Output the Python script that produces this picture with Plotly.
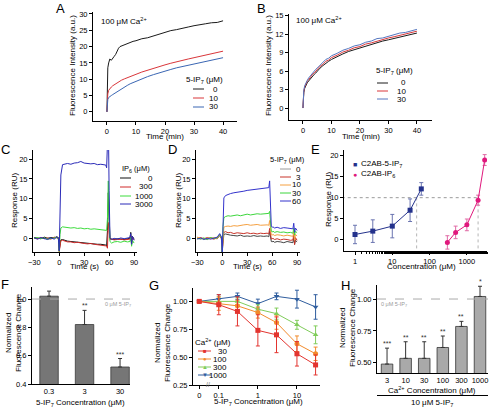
import plotly.graph_objects as go
import math

W, H = 490, 408

# ---------------- DATA ----------------
# Panel A / B : time course (min)
tA = [0, 0.1, 0.3, 0.6, 1, 1.5, 2, 2.5, 3, 3.5, 4, 4.5, 5, 6, 7, 8, 9, 10, 12, 14,
      16, 18, 20, 22, 24, 26, 28, 30, 32, 34, 36, 38, 40]
A_0 = [0, 12.0, 13.5, 15.0, 16.2, 15.8, 16.6, 17.0, 17.6, 18.6, 19.5, 20.0, 20.2, 20.5, 20.9,
       21.2, 21.6, 21.8, 22.4, 22.7, 23.3, 23.8, 24.3, 24.9, 25.2, 25.7, 26.0, 26.4, 26.6, 27.0,
       27.3, 27.4, 27.9]
A_10 = [0, 3.5, 5.5, 6.6, 7.2, 7.6, 8.0, 8.3, 8.6, 8.9, 9.2, 9.4, 9.7, 10.1, 10.5, 10.9, 11.2,
        11.5, 12.2, 12.8, 13.4, 13.9, 14.4, 14.9, 15.4, 15.8, 16.2, 16.6, 17.0, 17.4, 17.8, 18.2, 18.6]
A_30 = [0, 2.5, 3.8, 4.4, 4.8, 5.0, 5.3, 5.6, 5.9, 6.2, 6.5, 6.8, 7.1, 7.6, 8.1, 8.6, 9.0, 9.4,
        10.1, 10.8, 11.4, 12.0, 12.5, 13.0, 13.5, 13.9, 14.3, 14.7, 15.1, 15.5, 15.8, 16.2, 16.6]
B_0 = [0, 1.6, 2.5, 3.2, 3.7, 4.1, 4.4, 4.7, 5.0, 5.3, 5.5, 5.7, 6.0, 6.5, 6.9, 7.3, 7.6, 7.9,
       8.4, 8.8, 9.2, 9.5, 9.8, 10.1, 10.4, 10.6, 10.9, 11.1, 11.3, 11.5, 11.7, 11.9, 12.2]
B_10 = [0, 1.8, 2.7, 3.4, 3.9, 4.4, 4.6, 5.0, 5.2, 5.6, 5.7, 6.0, 6.2, 6.8, 7.1, 7.6, 7.8, 8.2,
        8.6, 9.1, 9.4, 9.8, 10.0, 10.4, 10.6, 10.9, 11.1, 11.4, 11.6, 11.8, 12.0, 12.2, 12.5]
B_30 = [0, 2.0, 2.9, 3.6, 4.1, 4.5, 4.9, 5.2, 5.5, 5.8, 6.0, 6.3, 6.5, 7.0, 7.4, 7.9, 8.1, 8.5,
        8.9, 9.4, 9.7, 10.1, 10.3, 10.7, 10.9, 11.3, 11.4, 11.7, 11.9, 12.2, 12.3, 12.5, 12.8]

# Panel C / D : SPR sensorgrams (s)
tC = [-30, -26, -22, -18, -14, -10, -6, -3, -1, 0, 1, 2, 4, 7, 10, 14, 18, 22, 26, 30, 34, 38,
      42, 46, 50, 54, 56, 57, 58, 59, 60, 61, 63, 66, 70, 74, 78, 82, 85, 86, 87, 88, 90]
C_0 = [0.2, 0.1, -0.1, 0.3, 0.0, 0.2, 0.1, 0.4, 0.2, -3.0, -1.2, -0.4, -0.3, -0.6, -0.7,
       -0.8, -0.9, -0.9, -1.1, -1.2, -1.2, -1.3, -1.4, -1.5, -1.5, -1.6, -1.7, -1.9, 2.0, 11.5,
       3.0, 0.0, -0.2, -0.3, -0.1, -0.2, -0.3, -0.1, 0.0, 1.5, -1.0, 0.5, -0.2]
C_300 = [0.0, -0.1, 0.2, -0.1, 0.1, -0.2, 0.3, 0.2, 0.0, -3.4, -1.5, -0.6, -0.5, -0.8, -0.9,
         -0.9, -1.1, -1.0, -1.2, -1.3, -1.4, -1.3, -1.5, -1.6, -1.6, -1.8, -1.9, -2.0, -2.5, 4.0,
         1.0, -0.3, -0.2, -0.4, -0.3, -0.2, -0.4, -0.3, -0.2, 0.5, -1.5, 0.3, -0.3]
C_1000 = [0.0, 0.2, -0.1, 0.1, -0.2, 0.0, 0.1, 0.2, -0.1, -3.3, 1.0, 2.6, 2.9, 2.8, 2.7,
          2.6, 2.7, 2.5, 2.6, 2.4, 2.5, 2.3, 2.4, 2.3, 2.2, 2.2, 2.1, 2.0, 5.0, 14.5,
          5.0, -0.8, -1.2, -0.9, -0.8, -1.0, -0.7, -0.9, -0.8, 0.3, -2.0, -0.5, -1.2]
C_3000 = [0.1, -0.2, 0.2, 0.0, -0.3, 0.1, -0.2, 0.3, 0.0, -3.2, 8.0, 16.0, 18.6, 18.8, 18.9,
          18.7, 19.0, 19.1, 19.4, 19.0, 18.9, 18.8, 18.9, 18.6, 18.7, 18.6, 18.5, 17.8, 30.0, 30.0,
          12.0, 0.2, -0.3, 0.0, -0.2, 0.1, -0.1, 0.0, 0.2, 1.2, -1.5, 0.5, -0.5]
D_0 = [0.1, -0.1, 0.0, -0.2, 0.1, 0.0, -0.1, 0.7, 0.1, -3.4, 0.3, 1.0, 1.1, 0.9, 0.8,
       0.7, 0.6, 0.8, 0.5, 0.6, 0.5, 0.7, 0.5, 0.6, 0.5, 0.6, 0.4, 1.8, 0.2, -0.8,
       -0.9, -0.7, -1.0, -0.8, -0.9, -1.1, -0.8, -1.0, -1.1, 0.2, -1.5, -0.5, -0.9]
D_3 = [-0.1, 0.2, -0.1, 0.2, 0.0, -0.2, 0.1, 0.8, 0.0, -3.5, 0.5, 1.5, 1.7, 1.4, 1.5,
       1.2, 1.4, 1.3, 1.2, 1.4, 1.2, 1.3, 1.1, 1.3, 1.2, 1.3, 1.1, 2.5, 1.0, -0.2,
       -0.1, 0.0, -0.3, -0.1, -0.4, -0.2, -0.3, -0.5, -0.4, 1.0, -1.6, 0.2, -0.5]
D_10 = [0.3, 0.0, -0.2, 0.1, -0.1, 0.2, 0.0, 0.9, 0.2, -3.6, 1.5, 2.8, 3.0, 3.1, 3.0,
        3.2, 3.1, 3.3, 3.4, 3.5, 3.3, 3.4, 3.5, 3.3, 3.4, 3.4, 3.3, 4.5, 2.5, 0.9,
        0.8, 1.0, 0.7, 0.9, 0.8, 0.6, 0.8, 0.7, 0.5, 1.8, -0.5, 1.0, 0.6]
D_30 = [0.0, -0.2, 0.1, -0.3, 0.2, -0.1, 0.2, 1.0, 0.3, -3.8, 3.0, 5.2, 5.5, 5.7, 5.6,
        5.8, 5.9, 5.7, 6.0, 6.1, 5.9, 6.0, 6.2, 6.1, 6.2, 6.3, 6.3, 6.8, 4.0, 1.8,
        1.6, 1.8, 1.5, 1.7, 1.5, 1.6, 1.4, 1.5, 1.3, 2.6, 0.8, 1.8, 1.4]
D_60 = [-0.2, 0.1, -0.3, 0.0, -0.2, 0.1, 0.3, 1.2, 0.4, -3.8, 6.0, 10.2, 10.8, 11.1, 11.3,
        11.5, 11.6, 11.8, 11.9, 12.1, 12.2, 12.3, 12.4, 12.5, 12.6, 12.7, 12.8, 14.5, 8.0, 3.0,
        2.8, 2.9, 2.6, 2.8, 2.5, 2.7, 2.6, 2.5, 2.4, 3.8, 1.5, 2.6, 2.0]

# Panel E : dose response
E_ip7_conc = [1, 3, 10, 30, 60]
E_ip7_resp = [1.2, 2.0, 3.2, 7.0, 12.1]
E_ip7_err = [2.2, 2.7, 2.8, 2.7, 1.5]
E_ip6_conc = [300, 500, 1000, 2000, 3000]
E_ip6_resp = [-0.7, 1.7, 3.5, 9.4, 19.0]
E_ip6_err = [1.6, 1.5, 1.4, 1.2, 1.3]
E_half = 10
E_ip7_cross = 45
E_ip6_cross = 2000

# Panel F
F_labels = ["0.3", "3", "30"]
F_vals = [1.02, 0.82, 0.52]
F_err = [0.036, 0.10, 0.06]
F_stars = ["", "**", "***"]

# Panel G
G_conc = [0, 0.1, 0.3, 1, 3, 10, 30]
G_30 = [1.00, 0.97, 0.91, 0.74, 0.70, 0.53, 0.43]
G_30_err = [0.01, 0.09, 0.13, 0.14, 0.16, 0.11, 0.09]
G_100 = [1.00, 0.98, 0.96, 0.90, 0.81, 0.62, 0.53]
G_100_err = [0.01, 0.06, 0.05, 0.05, 0.06, 0.07, 0.06]
G_300 = [1.00, 1.00, 1.00, 0.93, 0.89, 0.79, 0.70]
G_300_err = [0.01, 0.04, 0.03, 0.04, 0.05, 0.04, 0.08]
G_1000 = [1.00, 1.02, 1.045, 0.98, 1.045, 1.02, 0.95]
G_1000_err = [0.01, 0.04, 0.03, 0.04, 0.03, 0.08, 0.11]

# Panel H
H_labels = ["3", "10", "30", "100", "300", "1000"]
H_vals = [0.49, 0.535, 0.535, 0.62, 0.785, 1.02]
H_err = [0.125, 0.13, 0.13, 0.09, 0.04, 0.08]
H_stars = ["***", "**", "**", "**", "**", "*"]

# ---------------- HELPERS ----------------
def X(p):
    return p / W


def Y(p):
    return 1 - p / H


def dx(a, b):
    return [X(a), X(b)]


def dy(top, bot):
    return [Y(bot), Y(top)]


FONT = "Liberation Sans, Arial, Helvetica, sans-serif"
TICK = 7.5
annotations = []
shapes = []


def txt(x, y, text, size=8, xanchor="center", yanchor="middle", color="black", angle=0):
    annotations.append(dict(x=X(x), y=Y(y), xref="paper", yref="paper", text=text,
                            showarrow=False, xanchor=xanchor, yanchor=yanchor,
                            textangle=angle, font=dict(size=size, color=color, family=FONT)))


def pline(x0, y0, x1, y1, color="black", width=1, dash="solid"):
    shapes.append(dict(type="line", xref="paper", yref="paper", x0=X(x0), y0=Y(y0),
                       x1=X(x1), y1=Y(y1), line=dict(color=color, width=width, dash=dash)))


fig = go.Figure()


def line_trace(x, y, color, ax, width=1):
    fig.add_trace(go.Scatter(x=x, y=y, mode="lines", line=dict(color=color, width=width),
                             xaxis="x" + ax, yaxis="y" + ax, showlegend=False, hoverinfo="skip"))


ax_common = dict(showline=True, linecolor="black", linewidth=1, ticks="outside", ticklen=3,
                 tickwidth=1, tickcolor="black", showgrid=False, zeroline=False,
                 tickfont=dict(size=TICK, color="black", family=FONT), fixedrange=True,
                 automargin=False)

# ---------------- A ----------------
for y, c in [(A_0, "#1a1a1a"), (A_10, "#d9363a"), (A_30, "#3a66b3")]:
    line_trace(tA, y, c, "")
# ---------------- B ----------------
for y, c in [(B_0, "#1a1a1a"), (B_10, "#d9363a"), (B_30, "#5577c0")]:
    line_trace(tA, y, c, "2")
# ---------------- C ----------------
for y, c in [(C_0, "#111111"), (C_300, "#d02a2a"), (C_1000, "#3ddc3d"), (C_3000, "#2b2bb8")]:
    line_trace(tC, y, c, "3")
# ---------------- D ----------------
for y, c in [(D_0, "#444444"), (D_3, "#c8342a"), (D_10, "#f5a040"), (D_30, "#3dd63d"), (D_60, "#3333cc")]:
    line_trace(tC, y, c, "4")

# ---------------- E ----------------
fig.add_trace(go.Scatter(x=[0.1, E_ip6_cross], y=[E_half, E_half], mode="lines",
                         line=dict(color="#9a9a9a", width=1, dash="dot"), xaxis="x5", yaxis="y5",
                         showlegend=False, hoverinfo="skip"))
for xc in [E_ip7_cross, E_ip6_cross]:
    fig.add_trace(go.Scatter(x=[xc, xc], y=[-5, E_half], mode="lines",
                             line=dict(color="#b5b5b5", width=1, dash="dot"), xaxis="x5", yaxis="y5",
                             showlegend=False, hoverinfo="skip"))
fig.add_trace(go.Scatter(x=E_ip7_conc, y=E_ip7_resp, mode="lines+markers",
                         line=dict(color="#24328c", width=1),
                         marker=dict(symbol="square", size=5, color="#24328c"),
                         error_y=dict(type="data", array=E_ip7_err, color="#6a74b0", thickness=1, width=2),
                         xaxis="x5", yaxis="y5", showlegend=False))
fig.add_trace(go.Scatter(x=E_ip6_conc, y=E_ip6_resp, mode="lines+markers",
                         line=dict(color="#e0197d", width=1),
                         marker=dict(symbol="circle", size=5, color="#e0197d"),
                         error_y=dict(type="data", array=E_ip6_err, color="#e06aa5", thickness=1, width=2),
                         xaxis="x5", yaxis="y5", showlegend=False))

# ---------------- F ----------------
fig.add_trace(go.Bar(x=list(range(len(F_vals))), y=F_vals, width=0.52,
                     marker=dict(color="#767676", line=dict(color="#3a3a3a", width=0.8)),
                     error_y=dict(type="data", array=F_err, arrayminus=[0] * len(F_err),
                                  symmetric=False, color="#333", thickness=1, width=2),
                     xaxis="x6", yaxis="y6", showlegend=False))
for i, s in enumerate(F_stars):
    if s:
        annotations.append(dict(x=i, y=F_vals[i] + F_err[i], xref="x6", yref="y6", text=s,
                                showarrow=False, yanchor="bottom", yshift=-1,
                                font=dict(size=7, color="#333", family=FONT)))

# ---------------- G ----------------
def gpos(c):
    return -1.5 if c == 0 else math.log10(c)


gx = [gpos(c) for c in G_conc]
G_series = [(G_30, G_30_err, "#e3342f", "square"), (G_100, G_100_err, "#f28b2c", "circle"),
            (G_300, G_300_err, "#80cc5a", "triangle-up"), (G_1000, G_1000_err, "#2f5d9e", "triangle-down")]
for yv, ev, c, sym in reversed(G_series):
    fig.add_trace(go.Scatter(x=gx, y=yv, mode="lines+markers", line=dict(color=c, width=1),
                             marker=dict(symbol=sym, size=5, color=c),
                             error_y=dict(type="data", array=ev, color=c, thickness=1, width=2),
                             xaxis="x7", yaxis="y7", showlegend=False))

# ---------------- H ----------------
fig.add_trace(go.Bar(x=list(range(len(H_vals))), y=H_vals, width=0.62,
                     marker=dict(color="#a9a9a9", line=dict(color="#333", width=0.8)),
                     error_y=dict(type="data", array=H_err, arrayminus=[0] * len(H_err),
                                  symmetric=False, color="#333", thickness=1, width=2),
                     xaxis="x8", yaxis="y8", showlegend=False))
for i, s in enumerate(H_stars):
    annotations.append(dict(x=i, y=H_vals[i] + H_err[i], xref="x8", yref="y8", text=s,
                            showarrow=False, yanchor="bottom", yshift=-1,
                            font=dict(size=7, color="#333", family=FONT)))

# dashed reference lines F and H
for ax in ["x6", "x8"]:
    shapes.append(dict(type="line", xref=ax + " domain", yref="y" + ax[1:], x0=0, x1=1, y0=1.0, y1=1.0,
                       line=dict(color="#aaaaaa", width=1, dash="dash")))

# ---------------- LAYOUT ----------------
lay = dict(width=W, height=H, margin=dict(l=0, r=0, t=0, b=0, pad=0, autoexpand=False), autosize=False,
           paper_bgcolor="white", plot_bgcolor="white", font=dict(family=FONT, size=8, color="black"),
           bargap=0.3)

lay["xaxis"] = dict(ax_common, domain=dx(93, 237), range=[-4.8, 44.8], tickvals=[0, 10, 20, 30, 40], anchor="y")
lay["yaxis"] = dict(ax_common, domain=dy(12, 121), range=[-2.8, 30.6], tickvals=[0, 5, 10, 15, 20, 25, 30], anchor="x")
lay["xaxis2"] = dict(ax_common, domain=dx(289, 432), range=[-4.9, 45.3], tickvals=[0, 10, 20, 30, 40], anchor="y2")
lay["yaxis2"] = dict(ax_common, domain=dy(14, 120), range=[-1.95, 15.3], tickvals=[0, 3, 6, 9, 12, 15], anchor="x2")
lay["xaxis3"] = dict(ax_common, domain=dx(33, 137), range=[-31.5, 93.5], tickvals=[-30, 0, 30, 60, 90], anchor="y3")
lay["yaxis3"] = dict(ax_common, domain=dy(150, 252), range=[-3.45, 22.3], tickvals=[0, 5, 10, 15, 20], anchor="x3")
lay["xaxis4"] = dict(ax_common, domain=dx(196, 300), range=[-31.5, 93.5], tickvals=[-30, 0, 30, 60, 90], anchor="y4")
lay["yaxis4"] = dict(ax_common, domain=dy(150, 252), range=[-3.45, 22.3], tickvals=[0, 5, 10, 15, 20], anchor="x4")
lay["xaxis5"] = dict(ax_common, domain=dx(344, 487), type="log", range=[-0.295, 3.54],
                     tickvals=[1, 10, 100, 1000], ticktext=["1", "10", "100", "1000"], anchor="y5",
                     minor=dict(ticks="outside", ticklen=2, tickcolor="black", showgrid=False))
lay["yaxis5"] = dict(ax_common, domain=dy(150, 251), range=[-2.75, 21.4], tickvals=[0, 5, 10, 15, 20], anchor="x5")
lay["xaxis6"] = dict(ax_common, domain=dx(32, 130), range=[-0.48, 2.28], tickvals=[0, 1, 2],
                     ticktext=F_labels, anchor="y6", ticks="")
lay["yaxis6"] = dict(ax_common, domain=dy(287, 384), range=[0.4, 1.085], tickvals=[0.4, 0.6, 0.8, 1.0],
                     tickformat=".1f", anchor="x6")
lay["xaxis7"] = dict(ax_common, domain=dx(193, 320), range=[-1.66, 1.59], tickvals=[-1.5, -1, 0, 1],
                     ticktext=["0", "0.1", "1", "10"], anchor="y7")
lay["yaxis7"] = dict(ax_common, domain=dy(288, 385), range=[0.25, 1.12], tickvals=[0.25, 0.5, 0.75, 1.0],
                     tickformat=".2f", anchor="x7")
lay["xaxis8"] = dict(ax_common, domain=dx(377, 488), range=[-0.54, 5.43], tickvals=list(range(6)),
                     ticktext=H_labels, anchor="y8", ticks="")
lay["yaxis8"] = dict(ax_common, domain=dy(285, 373), range=[0.42, 1.11], tickvals=[0.5, 0.75, 1.0],
                     tickformat=".2f", anchor="x8")

# ---------------- TEXT ----------------
# panel letters
for L, x, y in [("A", 60, 8), ("B", 261, 8), ("C", 5, 149), ("D", 172, 149), ("E", 315, 149),
                ("F", 5, 284), ("G", 154, 285), ("H", 345, 285)]:
    txt(x, y, L, size=13)

# A
txt(73, 66, "Fluorescence Intensity (a.u.)", size=8, angle=-90)
txt(165, 137, "Time (min)", size=8)
txt(99, 21, "100 μM Ca<sup>2+</sup>", size=8, xanchor="left")
txt(204, 80, "5-IP<sub>7</sub> (μM)", size=8)
for lab, yy, c in [("0", 89, "#1a1a1a"), ("10", 98, "#d9363a"), ("30", 107, "#3a66b3")]:
    pline(193, yy, 204, yy, color=c)
    txt(220, yy, lab, size=8, xanchor="right")

# B
txt(269, 66, "Fluorescence Intensity (a.u.)", size=8, angle=-90)
txt(361, 137, "Time (min)", size=8)
txt(294, 20, "100 μM Ca<sup>2+</sup>", size=8, xanchor="left")
txt(394, 71, "5-IP<sub>7</sub> (μM)", size=8)
for lab, yy, c in [("0", 83, "#1a1a1a"), ("10", 91, "#d9363a"), ("30", 99, "#5577c0")]:
    pline(377, yy, 388, yy, color=c)
    txt(408, yy, lab, size=8, xanchor="right")

# C
txt(14, 201, "Response (RU)", size=8, angle=-90)
txt(84, 266, "Time (s)", size=8)
txt(136, 169, "IP<sub>6</sub> (μM)", size=7.5)
for lab, yy, c in [("0", 178, "#111111"), ("300", 187, "#d02a2a"), ("1000", 196, "#3ddc3d"), ("3000", 204, "#2b2bb8")]:
    pline(120, yy, 131, yy, color=c)
    txt(155, yy, lab, size=8, xanchor="right")

# D
txt(178, 201, "Response (RU)", size=8, angle=-90)
txt(247, 266, "Time (s)", size=8)
txt(287, 160, "5-IP<sub>7</sub> (μM)", size=7.5)
for lab, yy, c in [("0", 169, "#9a9a9a"), ("3", 177, "#c8342a"), ("10", 185, "#f5a040"),
                   ("30", 193, "#3dd63d"), ("60", 201, "#3333cc")]:
    pline(280, yy, 291, yy, color=c)
    txt(303, yy, lab, size=8, xanchor="right")

# E
txt(328, 200, "Response (RU)", size=8, angle=-90)
txt(421, 266.5, "Concentration (μM)", size=8)
txt(355, 164, "■", size=7, color="#24328c")
txt(355, 174, "●", size=7, color="#e0197d")
txt(359, 164, "C2AB-5-IP<sub>7</sub>", size=8, xanchor="left")
txt(359, 174, "C2AB-IP<sub>6</sub>", size=8, xanchor="left")

# F
txt(13, 333, "Normalized<br>Fluorescence Change", size=8, angle=-90)
txt(80, 402.5, "5-IP<sub>7</sub> Concentration (μM)", size=8)
txt(103, 304, "0 μM 5-IP<sub>7</sub>", size=5.5, color="#999999", xanchor="left")

# G
txt(162, 343, "Normalized<br>Fluorescence Change", size=8, angle=-90)
txt(258, 402, "5-IP<sub>7</sub> Concentration (μM)", size=8)
txt(208, 384, "//", size=7, color="#777777")
txt(213, 342, "Ca<sup>2+</sup> (μM)", size=8)
for (yv, ev, c, sym), lab, yy in zip(G_series, ["30", "100", "300", "1000"], [351, 359, 367, 375]):
    pline(198, yy, 211, yy, color=c)
    sy = {"square": "■", "circle": "●", "triangle-up": "▲", "triangle-down": "▼"}[sym]
    txt(204.5, yy, sy, size=6, color=c)
    txt(229, yy, lab, size=8, xanchor="right")

# H
txt(347, 328, "Normalized<br>Fluorescence Change", size=8, angle=-90)
txt(432, 389.5, "Ca<sup>2+</sup> Concentration (μM)", size=8)
pline(377, 395.5, 488, 395.5, color="black", width=1)
txt(432, 402.5, "10 μM 5-IP<sub>7</sub>", size=8)
txt(379, 304, "0 μM 5-IP<sub>7</sub>", size=5.5, color="#999999", xanchor="left")

lay["annotations"] = annotations
lay["shapes"] = shapes
fig.update_layout(**lay)
fig.write_html("out.html", config={"displayModeBar": False},
               post_script="document.body.style.margin='0px';document.body.style.overflow='hidden';")
